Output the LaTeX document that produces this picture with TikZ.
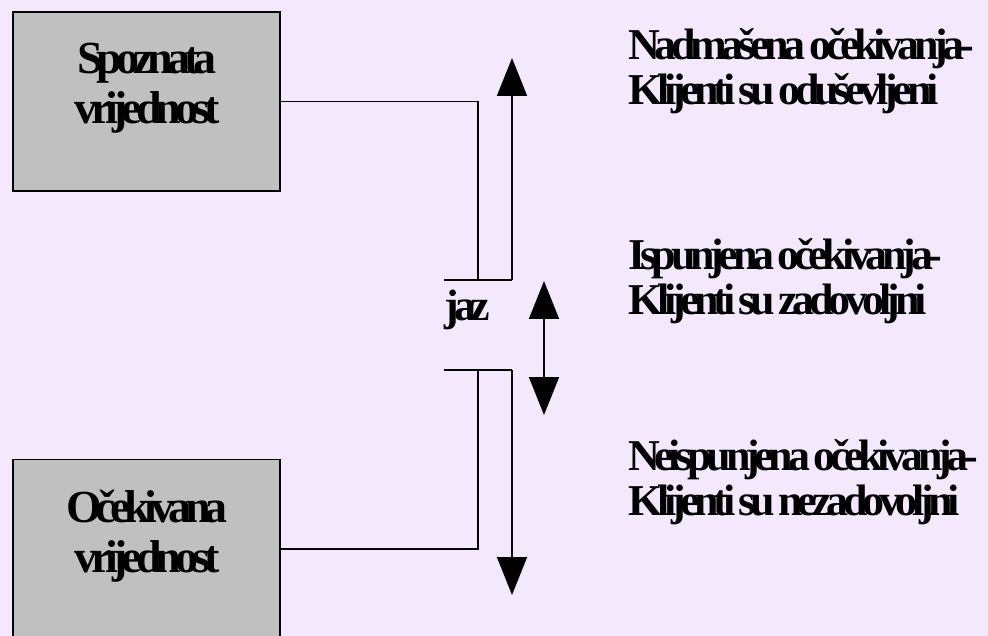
\documentclass[tikz,border=0pt]{standalone}
\usepackage{fontspec}
\setmainfont{Liberation Serif}
\newfontfamily\boxfont[LetterSpace=-13,WordSpace=0.6]{Liberation Serif}
\newfontfamily\sidefont[LetterSpace=-12,WordSpace=0.6]{Liberation Serif}
\usetikzlibrary{arrows.meta}
\definecolor{bgc}{HTML}{F4E8FC}
\definecolor{boxc}{HTML}{C0C0C0}
\tikzset{
  box/.style={draw=black, line width=1.6pt, fill=boxc, minimum width=267pt, minimum height=179pt, inner sep=0pt},
  boxtext/.style={font=\boxfont\bfseries\fontsize{46}{50}\selectfont, align=center, inner sep=0pt, anchor=base},
  sidetext/.style={font=\sidefont\bfseries\fontsize{44}{45}\selectfont, align=left, inner sep=0pt, anchor=base west},
  conn/.style={line width=1.6pt, black},
  arr/.style={conn, -{Triangle[length=38pt,width=30pt]}},
  dbl/.style={conn, {Triangle[length=38pt,width=30pt]}-{Triangle[length=38pt,width=30pt]}}
}
\begin{document}
\begin{tikzpicture}[x=1pt,y=-1pt]
\useasboundingbox (0,0) rectangle (988,636);
\fill[bgc] (0,0) rectangle (988,636);
\clip (0,0) rectangle (988,636);
% boxes
\node[box] (sv) at (146.5,101.5) {};
\node[box] (ov) at (146.5,549) {};
\node[boxtext] (svt) at (147,124) {Spoznata\\vrijednost};
\node[boxtext] (ovt) at (147,572) {Očekivana\\vrijednost};
% coordinates
\coordinate (c1) at (478,280);
\coordinate (l1) at (444,280);
\coordinate (r1) at (512,280);
\coordinate (t1) at (512,58);
\coordinate (c2) at (478,370);
\coordinate (l2) at (444,370);
\coordinate (r2) at (512,370);
\coordinate (t2) at (512,595);
\coordinate (d1) at (544,281);
\coordinate (d2) at (544,415);
% connectors
\draw[conn] (sv.east) -| (c1);
\draw[conn] (l1) -- (r1);
\draw[arr] (r1) -- (t1);
\draw[conn] (ov.east) -| (c2);
\draw[conn] (l2) -- (r2);
\draw[arr] (r2) -- (t2);
\draw[dbl] (d1) -- (d2);
% labels
\node[sidetext, anchor=base] (jaz) at (467.5,320) {jaz};
\node[sidetext] (s1) at (628,105) {Nadmašena očekivanja-\\Klijenti su oduševljeni};
\node[sidetext] (s2) at (628,315) {Ispunjena očekivanja-\\Klijenti su zadovoljni};
\node[sidetext] (s3) at (628,515) {Neispunjena očekivanja-\\Klijenti su nezadovoljni};
\end{tikzpicture}
\end{document}
